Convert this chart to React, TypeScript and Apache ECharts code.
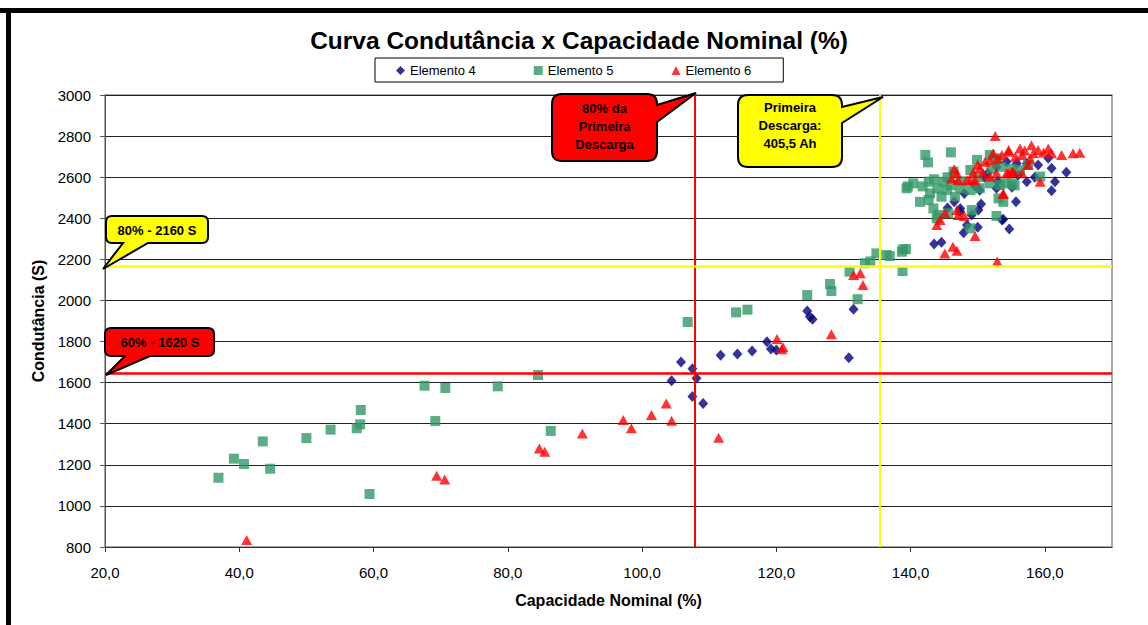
import React, { useEffect, useRef } from "react";
import * as echarts from "echarts";

// ---------- DATA ----------
const xTickFormat = (v: number) => v.toFixed(1).replace(".", ",");
const yTickFormat = (v: number) => String(v);

const elemento4: number[][] = [
  [104.4, 1609], [105.8, 1700], [107.5, 1668], [108.1, 1621], [107.5, 1532], [109.1, 1499],
  [111.7, 1733], [114.2, 1739], [116.4, 1754], [118.6, 1799], [119.2, 1764], [120.0, 1759],
  [124.6, 1949], [125.0, 1921], [125.4, 1908], [130.8, 1721], [131.5, 1957],
  [143.5, 2275], [144.6, 2283], [147.9, 2330], [148.4, 2367], [150.0, 2356], [154.7, 2348],
  [153.6, 2391], [153.8, 2395], [149.1, 2416], [150.1, 2440], [147.4, 2432], [147.4, 2448],
  [155.7, 2480], [161.0, 2534], [161.5, 2578], [163.2, 2624], [161.0, 2643], [159.0, 2659],
  [160.5, 2692], [157.3, 2578], [155.1, 2551], [152.8, 2546], [150.3, 2537], [152.8, 2651],
  [154.3, 2675], [155.8, 2667], [157.3, 2667], [151.0, 2600], [153.0, 2580], [149.5, 2560],
  [148.0, 2520], [146.5, 2480], [145.5, 2450], [151.5, 2620], [156.0, 2610], [158.5, 2600],
  [150.5, 2470],
];

const elemento5: number[][] = [
  [36.9, 1137], [39.2, 1230], [40.7, 1204], [43.5, 1314], [44.6, 1181], [50.0, 1330],
  [53.6, 1371], [57.5, 1378], [58.0, 1397], [58.1, 1467], [59.4, 1058], [67.6, 1585],
  [69.2, 1413], [70.7, 1574], [78.5, 1582], [84.5, 1637], [86.4, 1365], [106.8, 1895],
  [114.0, 1942], [115.7, 1955], [124.6, 2026], [128.0, 2080], [128.2, 2046], [132.1, 2006],
  [130.9, 2140], [133.2, 2181], [134.0, 2190], [134.9, 2229], [136.4, 2221], [136.9, 2216],
  [138.7, 2237], [138.9, 2249], [139.3, 2250], [138.8, 2143],
  [142.2, 2708], [142.6, 2672], [146.0, 2721], [140.4, 2570], [139.4, 2546], [139.6, 2555],
  [142.7, 2578], [144.9, 2578], [145.4, 2537], [142.9, 2521], [141.4, 2480], [142.7, 2489],
  [144.6, 2505], [146.6, 2505], [143.4, 2448], [144.1, 2416], [145.6, 2424], [143.9, 2400],
  [146.4, 2627], [148.9, 2635], [149.9, 2684], [151.8, 2708], [152.8, 2692], [147.4, 2546],
  [148.9, 2537], [150.3, 2546], [151.8, 2570], [153.3, 2562], [155.1, 2570], [156.3, 2635],
  [159.3, 2603], [149.1, 2440], [153.1, 2497], [153.8, 2480], [152.8, 2411], [148.9, 2351],
  [154.1, 2570], [155.5, 2560], [150.0, 2600], [147.5, 2580], [146.0, 2560], [144.0, 2545],
  [141.8, 2555], [143.5, 2590], [145.5, 2600], [155.0, 2640], [157.5, 2660], [153.5, 2650],
  [152.0, 2640],
];

const elemento6: number[][] = [
  [41.1, 834], [69.4, 1147], [70.6, 1129], [84.7, 1280], [85.5, 1264], [91.1, 1353],
  [97.2, 1418], [98.4, 1378], [101.4, 1442], [103.6, 1499], [104.4, 1415], [111.4, 1332],
  [120.1, 1812], [120.8, 1762], [121.0, 1772], [128.2, 1835], [131.5, 2124], [132.5, 2132],
  [132.9, 2075],
  [152.6, 2800], [152.9, 2189], [145.1, 2229], [146.3, 2262], [146.9, 2242], [149.6, 2314],
  [143.9, 2367], [144.4, 2391], [145.1, 2424], [146.9, 2440], [147.1, 2416], [148.0, 2411],
  [146.5, 2638], [146.9, 2619], [146.1, 2594], [147.1, 2586], [148.9, 2586], [149.6, 2586],
  [150.3, 2643], [151.1, 2675], [151.8, 2684], [152.3, 2716], [153.6, 2708], [154.6, 2724],
  [155.6, 2700], [150.8, 2619], [151.8, 2603], [152.8, 2619], [153.8, 2521], [154.6, 2619],
  [155.3, 2627], [149.3, 2622], [148.4, 2586], [154.6, 2732], [156.3, 2740], [156.6, 2708],
  [158.0, 2756], [158.3, 2716], [159.0, 2732], [160.5, 2740], [161.0, 2716], [162.5, 2708],
  [164.2, 2716], [165.2, 2719], [157.5, 2659], [156.6, 2619], [154.3, 2619], [155.1, 2627],
  [159.3, 2578], [153.8, 2518], [157.0, 2730], [153.0, 2690], [150.0, 2660], [159.8, 2720],
  [157.8, 2690],
];

// reference lines (as drawn in the picture)
const refVertical = [107.8, 135.4]; // 80% da Primeira Descarga, Primeira Descarga
const refHorizontal = [1645, 2166]; // 60% - 1620 S, 80% - 2160 S

// ---------- CALLOUT SHAPES (layout) ----------
const bubbleA =
  "M112 216 H202 Q208 216 208 222 V237 Q208 243 202 243 H148 L103 269 L123 243 H112 Q106 243 106 237 V222 Q106 216 112 216 Z";
const bubbleB =
  "M111 328 H208 Q214 328 214 334 V350 Q214 356 208 356 H150 L106 375 L125 356 H111 Q105 356 105 350 V334 Q105 328 111 328 Z";
const bubbleC =
  "M562 94 H647 Q657 94 657 104 V105 L696 93 L657 122 V151 Q657 161 647 161 H562 Q552 161 552 151 V104 Q552 94 562 94 Z";
const bubbleD =
  "M748 95 H832 Q842 95 842 105 V107 L883 97 L842 123 V157 Q842 167 832 167 H748 Q738 167 738 157 V105 Q738 95 748 95 Z";

echarts.graphic.registerShape("bubbleA", echarts.graphic.extendPath(bubbleA, {}));
echarts.graphic.registerShape("bubbleB", echarts.graphic.extendPath(bubbleB, {}));
echarts.graphic.registerShape("bubbleC", echarts.graphic.extendPath(bubbleC, {}));
echarts.graphic.registerShape("bubbleD", echarts.graphic.extendPath(bubbleD, {}));

const FONT = 'Arial, "Liberation Sans", sans-serif';

export default function App() {
  const ref = useRef<HTMLDivElement>(null);

  useEffect(() => {
    document.body.style.margin = "0";
    const chart = echarts.init(ref.current!, null, { renderer: "svg" });

    const bubbleStyle = (fill: string) => ({ fill, stroke: "#000", lineWidth: 2 });
    const txt = (x: number, y: number, text: string) => ({
      type: "text",
      x,
      y,
      z: 101,
      style: {
        text,
        font: `bold 13px ${FONT}`,
        fill: "#000",
        align: "center",
        verticalAlign: "middle",
        lineHeight: 18,
      },
    });

    chart.setOption({
      animation: false,
      backgroundColor: "#fff",
      textStyle: { fontFamily: FONT },
      title: {
        text: "Curva Condutância x Capacidade Nominal (%)",
        left: 574,
        textAlign: "center",
        top: 23,
        textStyle: { fontSize: 24.5, fontWeight: "bold", color: "#000", fontFamily: FONT },
      },
      legend: {
        left: 375,
        top: 58,
        padding: [6, 32, 5, 21],
        itemGap: 58,
        itemWidth: 9,
        itemHeight: 9,
        borderColor: "#000",
        borderWidth: 1,
        backgroundColor: "#fff",
        textStyle: { fontSize: 13, color: "#000", fontFamily: FONT },
        data: ["Elemento 4", "Elemento 5", "Elemento 6"],
      },
      grid: {
        left: 105,
        top: 95,
        right: 36,
        bottom: 78,
        show: true,
        borderColor: "#8c8c8c",
        borderWidth: 1.5,
        backgroundColor: "#fff",
      },
      xAxis: {
        type: "value",
        min: 20,
        max: 170,
        interval: 20,
        name: "Capacidade Nominal (%)",
        nameLocation: "middle",
        nameGap: 45,
        nameTextStyle: { fontSize: 16, fontWeight: "bold", color: "#000", fontFamily: FONT },
        axisLine: { show: true, lineStyle: { color: "#333", width: 1 } },
        axisTick: { show: true, inside: false, length: 5, lineStyle: { color: "#333" } },
        axisLabel: {
          fontSize: 15,
          color: "#000",
          margin: 18,
          showMaxLabel: false,
          formatter: xTickFormat,
        },
        splitLine: { show: false },
      },
      yAxis: {
        type: "value",
        min: 800,
        max: 3000,
        interval: 200,
        name: "Condutância (S)",
        nameLocation: "middle",
        nameGap: 59,
        nameRotate: 90,
        nameTextStyle: { fontSize: 16, fontWeight: "bold", color: "#000", fontFamily: FONT },
        axisLine: { show: true, lineStyle: { color: "#555", width: 1 } },
        axisTick: { show: true, inside: false, length: 5, lineStyle: { color: "#555" } },
        axisLabel: { fontSize: 15, color: "#000", margin: 14, formatter: yTickFormat },
        splitLine: { show: true, lineStyle: { color: "#222", width: 1 } },
      },
      series: [
        {
          name: "Elemento 4",
          type: "scatter",
          symbol: "diamond",
          symbolSize: [10, 11],
          itemStyle: { color: "#000080" },
          data: elemento4,
          z: 2,
        },
        {
          name: "Elemento 5",
          type: "scatter",
          symbol: "rect",
          symbolSize: 10,
          itemStyle: { color: "#339966" },
          data: elemento5,
          z: 3,
        },
        {
          name: "Elemento 6",
          type: "scatter",
          symbol: "triangle",
          symbolSize: [11, 10],
          itemStyle: { color: "#FF0000" },
          data: elemento6,
          z: 4,
          markLine: {
            silent: true,
            symbol: ["none", "none"],
            label: { show: false },
            data: [
              { xAxis: refVertical[0], lineStyle: { color: "#FF0000", width: 2, type: "solid" } },
              { xAxis: refVertical[1], lineStyle: { color: "#FFFF00", width: 2, type: "solid" } },
              { yAxis: refHorizontal[0], lineStyle: { color: "#FF0000", width: 2.5, type: "solid" } },
              { yAxis: refHorizontal[1], lineStyle: { color: "#FFFF00", width: 2.5, type: "solid" } },
            ],
          },
        },
      ],
      graphic: [
        { type: "rect", z: 120, shape: { x: 0, y: 8, width: 1148, height: 5 }, style: { fill: "#000" } },
        { type: "rect", z: 120, shape: { x: 6, y: 8, width: 5, height: 617 }, style: { fill: "#000" } },
        { type: "bubbleA", x: 0, y: 0, z: 100, style: bubbleStyle("#FFFF00") },
        { type: "bubbleB", x: 0, y: 0, z: 100, style: bubbleStyle("#FF0000") },
        { type: "bubbleC", x: 0, y: 0, z: 100, style: bubbleStyle("#FF0000") },
        { type: "bubbleD", x: 0, y: 0, z: 100, style: bubbleStyle("#FFFF00") },
        txt(157, 230, "80% - 2160 S"),
        txt(160, 342, "60% - 1620 S"),
        txt(604.5, 126, "80% da\nPrimeira\nDescarga"),
        txt(790, 125, "Primeira\nDescarga:\n405,5 Ah"),
      ],
    });

    return () => chart.dispose();
  }, []);

  return <div ref={ref} style={{ width: 1148, height: 625 }} />;
}
